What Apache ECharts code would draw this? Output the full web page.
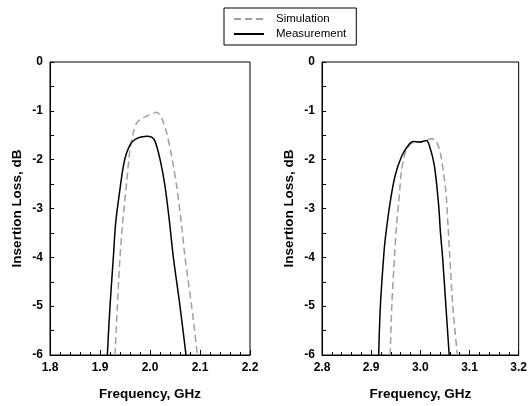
<!DOCTYPE html>
<html><head><meta charset="utf-8">
<script src="https://cdn.jsdelivr.net/npm/echarts@6/dist/echarts.min.js"></script>
<style>html,body{margin:0;padding:0;background:#fff}#c{width:530px;height:406px}</style>
</head><body><div id="c"></div>
<script>
// Left panel (1.8 - 2.2 GHz)
const leftMeasurement = [[1.9147,-6.0],[1.9200,-5.0],[1.9267,-4.0],[1.9313,-3.3],[1.9400,-2.6],[1.9467,-2.13],[1.9533,-1.86],[1.9630,-1.65],[1.9750,-1.56],[1.9850,-1.53],[1.9933,-1.52],[2.0033,-1.54],[2.0100,-1.62],[2.0200,-1.99],[2.0300,-2.54],[2.0387,-3.25],[2.0467,-4.0],[2.0600,-5.0],[2.0720,-6.0]];
const leftSimulation = [[1.9300,-6.0],[1.9347,-5.0],[1.9400,-4.0],[1.9453,-3.3],[1.9533,-2.47],[1.9600,-1.79],[1.9667,-1.45],[1.9733,-1.25],[1.9850,-1.15],[1.9933,-1.11],[2.0050,-1.06],[2.0133,-1.03],[2.0233,-1.15],[2.0333,-1.45],[2.0433,-1.93],[2.0533,-2.54],[2.0633,-3.35],[2.0700,-4.0],[2.0833,-5.0],[2.0947,-6.0]];
// Right panel (2.8 - 3.2 GHz)
const rightMeasurement = [[2.9153,-6.0],[2.9187,-5.0],[2.9253,-4.0],[2.9287,-3.62],[2.9387,-2.87],[2.9487,-2.33],[2.9620,-1.93],[2.9753,-1.71],[2.9853,-1.63],[2.9987,-1.64],[3.0120,-1.61],[3.0187,-1.72],[3.0287,-2.13],[3.0370,-2.9],[3.0410,-3.5],[3.0453,-4.0],[3.0520,-5.0],[3.0587,-6.0]];
const rightSimulation = [[2.9387,-6.0],[2.9420,-5.0],[2.9473,-4.0],[2.9520,-3.3],[2.9567,-2.8],[2.9620,-2.2],[2.9720,-1.79],[2.9853,-1.65],[2.9990,-1.64],[3.0120,-1.61],[3.0220,-1.57],[3.0320,-1.61],[3.0420,-1.93],[3.0520,-2.66],[3.0560,-3.3],[3.0600,-4.0],[3.0660,-5.0],[3.0753,-6.0]];
const xRanges = [[1.8, 2.2], [2.8, 3.2]];
const yRange = [-6, 0];
const seriesNames = ['Simulation', 'Measurement'];
const xAxisTitle = 'Frequency, GHz';
const yAxisTitle = 'Insertion Loss, dB';

const FONT = 'Arial, "Liberation Sans", sans-serif';
const chart = echarts.init(document.getElementById('c'));
function xAx(i){
  return {type:'value', gridIndex:i, min:xRanges[i][0], max:xRanges[i][1], interval:0.1,
    name:xAxisTitle, nameLocation:'middle', nameGap:32,
    nameTextStyle:{fontFamily:FONT, fontWeight:'bold', fontSize:13.5, color:'#000'},
    axisLine:{show:true, onZero:false, lineStyle:{color:'#000', width:1}},
    axisTick:{show:true, inside:true, length:5, lineStyle:{color:'#000'}},
    minorTick:{show:true, splitNumber:5, length:3, lineStyle:{color:'#000'}},
    axisLabel:{fontFamily:FONT, fontWeight:'bold', fontSize:12, color:'#000', margin:7,
      formatter:v=>v.toFixed(1)},
    splitLine:{show:false}};
}
function yAx(i){
  return {type:'value', gridIndex:i, min:yRange[0], max:yRange[1], interval:1,
    name:yAxisTitle, nameLocation:'middle', nameGap:26,
    nameTextStyle:{fontFamily:FONT, fontWeight:'bold', fontSize:13.5, color:'#000'},
    axisLine:{show:true, onZero:false, lineStyle:{color:'#000', width:1}},
    axisTick:{show:true, inside:true, length:4, lineStyle:{color:'#000'}},
    minorTick:{show:true, splitNumber:2, length:4, lineStyle:{color:'#000'}},
    axisLabel:{fontFamily:FONT, fontWeight:'bold', fontSize:12, color:'#000', margin:7},
    splitLine:{show:false}};
}
const simStyle = {color:'#a0a0a0', width:1.5, type:[7,4]};
const measStyle = {color:'#000', width:1.5, type:'solid'};
function ser(name, data, i, style){
  return {type:'line', name:name, xAxisIndex:i, yAxisIndex:i, data:data, symbol:'none',
    smooth:0.3, lineStyle:style, itemStyle:{color:style.color}, animation:false, clip:true};
}
chart.setOption({
  animation:false,
  grid:[
    {left:50, top:62, width:200, height:295, show:true, borderColor:'#000', borderWidth:1, backgroundColor:'transparent'},
    {left:322, top:62, width:200, height:295, show:true, borderColor:'#000', borderWidth:1, backgroundColor:'transparent'}
  ],
  xAxis:[xAx(0), xAx(1)],
  yAxis:[yAx(0), yAx(1)],
  legend:{data:seriesNames, orient:'vertical', left:224, top:8, itemWidth:30, itemHeight:10, itemGap:3,
    padding:[5,10,5,9], borderColor:'#000', borderWidth:1,
    itemStyle:{opacity:0, borderWidth:0},
    textStyle:{fontFamily:FONT, fontSize:11.5, color:'#000', padding:[0,0,0,7]}},
  series:[
    ser(seriesNames[0], leftSimulation, 0, simStyle),
    ser(seriesNames[1], leftMeasurement, 0, measStyle),
    ser(seriesNames[0], rightSimulation, 1, simStyle),
    ser(seriesNames[1], rightMeasurement, 1, measStyle)
  ]
});
</script></body></html>
